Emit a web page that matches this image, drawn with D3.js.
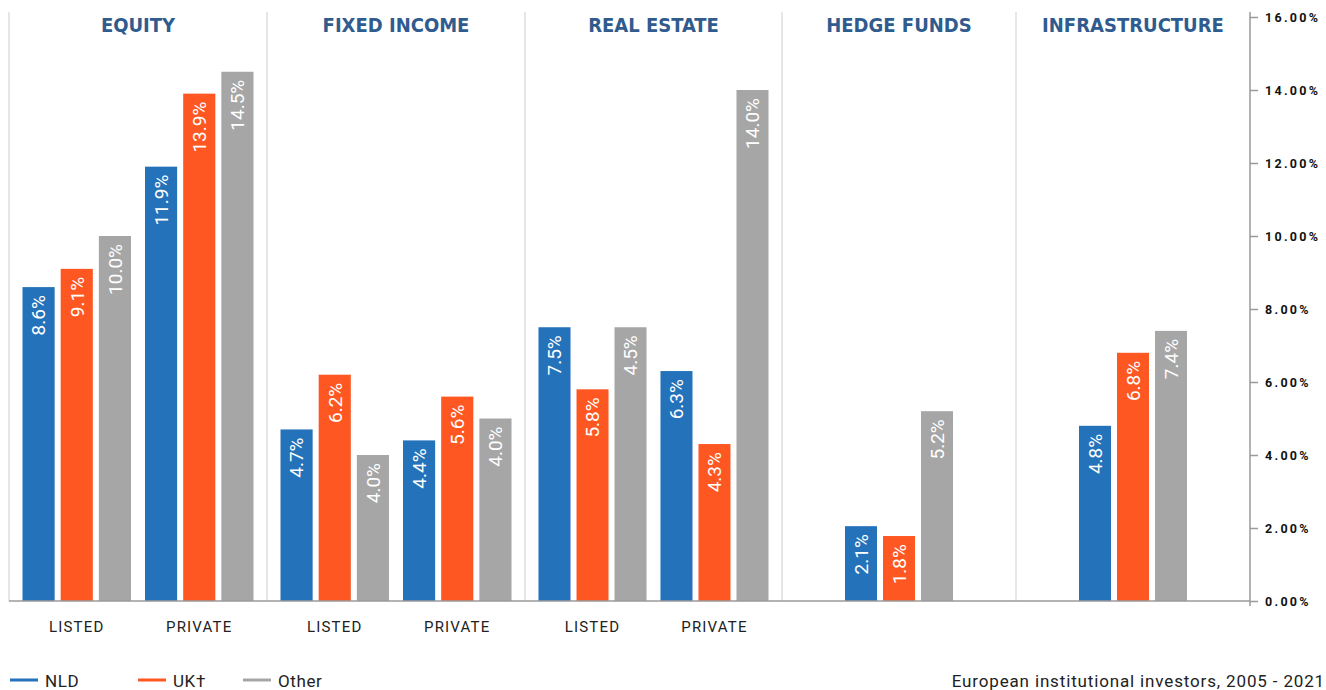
<!DOCTYPE html>
<html>
<head>
<meta charset="utf-8">
<script src="https://cdn.jsdelivr.net/npm/d3@7"></script>
<style>
  body { margin: 0; background: #fff; }
  svg { display: block; }
</style>
</head>
<body>
<div id="chart"></div>
<script>
// Données
const assetClasses = ["EQUITY", "FIXED INCOME", "REAL ESTATE", "HEDGE FUNDS", "INFRASTRUCTURE"];
const subGroups = [["LISTED", "PRIVATE"], ["LISTED", "PRIVATE"], ["LISTED", "PRIVATE"], [""], [""]];
const series = ["NLD", "UK†", "Other"];
const colors = ["#2472ba", "#ff5722", "#a6a6a6"];

// bar heights (percent) per asset class, per sub group, per series
const barValues = [
  [[8.6, 9.1, 10.0], [11.9, 13.9, 14.5]],
  [[4.7, 6.2, 4.0], [4.4, 5.6, 5.0]],
  [[7.5, 5.8, 7.5], [6.3, 4.3, 14.0]],
  [[2.05, 1.78, 5.2]],
  [[4.8, 6.8, 7.4]]
];
// labels as printed on the bars
const barLabels = [
  [["8.6%", "9.1%", "10.0%"], ["11.9%", "13.9%", "14.5%"]],
  [["4.7%", "6.2%", "4.0%"], ["4.4%", "5.6%", "4.0%"]],
  [["7.5%", "5.8%", "4.5%"], ["6.3%", "4.3%", "14.0%"]],
  [["2.1%", "1.8%", "5.2%"]],
  [["4.8%", "6.8%", "7.4%"]]
];
const yTicks = [0, 2, 4, 6, 8, 10, 12, 14, 16];
const footnote = "European institutional investors, 2005 - 2021";

// Mise en page
const width = 1326, height = 690;
const panelEdges = [9, 267, 525, 782, 1016, 1250];
const axisX = 1250;

const svg = d3.select("#chart").append("svg")
  .attr("width", width)
  .attr("height", height);

const y = d3.scaleLinear().domain([0, 16]).range([601, 17]);

// séparateurs
svg.append("g").selectAll("line")
  .data(panelEdges.slice(0, 5))
  .enter().append("line")
  .attr("x1", d => d).attr("x2", d => d)
  .attr("y1", 12).attr("y2", y(0))
  .attr("stroke", "#e6e6e6")
  .attr("stroke-width", 2);

// panneaux
const barScale = d3.scaleBand().domain(series).paddingInner(6 / 38);

assetClasses.forEach((name, i) => {
  const x0 = panelEdges[i], x1 = panelEdges[i + 1];
  const subs = subGroups[i];
  const pad = subs.length > 1 ? 13.5 : (x1 - x0 - 108) / 2;
  const groupScale = d3.scaleBand()
    .domain(subs)
    .range([x0 + pad, x1 - pad])
    .paddingInner(subs.length > 1 ? 14 / 122.5 : 0);
  barScale.range([0, groupScale.bandwidth()]);

  const g = svg.append("g");

  g.append("text")
    .attr("x", (x0 + x1) / 2)
    .attr("y", 32)
    .attr("text-anchor", "middle")
    .style("font-family", "'DejaVu Sans Condensed', 'Roboto Condensed', 'Liberation Sans Narrow', Roboto, sans-serif")
    .style("font-stretch", "condensed")
    .style("font-weight", "bold")
    .style("font-size", "20px")
    .style("fill", "#2f5b8f")
    .text(name);

  subs.forEach((sub, j) => {
    const gx = groupScale(sub);
    const data = series.map((s, k) => ({ s, k, v: barValues[i][j][k], label: barLabels[i][j][k] }));

    g.selectAll(".bar-" + j)
      .data(data)
      .enter().append("rect")
      .attr("x", d => gx + barScale(d.s))
      .attr("y", d => y(d.v))
      .attr("width", barScale.bandwidth())
      .attr("height", d => y(0) - y(d.v))
      .attr("fill", d => colors[d.k]);

    g.selectAll(".lbl-" + j)
      .data(data)
      .enter().append("text")
      .attr("transform", d => `translate(${gx + barScale(d.s) + barScale.bandwidth() / 2},${y(d.v) + 8}) rotate(-90)`)
      .attr("text-anchor", "end")
      .attr("dy", "0.36em")
      .style("font-family", "Roboto, sans-serif")
      .style("font-size", "19px")
      .style("fill", "#fff")
      .text(d => d.label);

    if (sub) {
      g.append("text")
        .attr("x", gx + groupScale.bandwidth() / 2)
        .attr("y", 632)
        .attr("text-anchor", "middle")
        .style("font-family", "Roboto, sans-serif")
        .style("font-size", "15px")
        .style("letter-spacing", "1.2px")
        .style("fill", "#222")
        .text(sub);
    }
  });
});

// ligne de base
svg.append("line")
  .attr("x1", panelEdges[0]).attr("x2", axisX)
  .attr("y1", y(0)).attr("y2", y(0))
  .attr("stroke", "#9a9a9a")
  .attr("stroke-width", 1.5);

// axe Y
svg.append("line")
  .attr("x1", axisX).attr("x2", axisX)
  .attr("y1", 12).attr("y2", 606)
  .attr("stroke", "#9a9a9a")
  .attr("stroke-width", 1.5);

const yAxis = svg.append("g")
  .attr("transform", `translate(${axisX},0)`)
  .call(d3.axisRight(y).tickValues(yTicks).tickSize(8).tickSizeOuter(0).tickPadding(7)
    .tickFormat(d => d.toFixed(2) + "%"));
yAxis.select(".domain").remove();
yAxis.selectAll(".tick line").attr("stroke", "#9a9a9a").attr("stroke-width", 1.5);
yAxis.selectAll(".tick text")
  .style("font-family", "Roboto, sans-serif")
  .style("font-weight", "bold")
  .style("font-size", "12.5px")
  .style("letter-spacing", "2.3px")
  .style("fill", "#111");

// légende
const legendX = [10, 138, 243];
const legend = svg.append("g").selectAll("g")
  .data(series)
  .enter().append("g")
  .attr("transform", (d, i) => `translate(${legendX[i]},680)`);

legend.append("line")
  .attr("x1", 0).attr("x2", 28)
  .attr("stroke", (d, i) => colors[i])
  .attr("stroke-width", 3);

legend.append("text")
  .attr("x", 35)
  .attr("y", 7)
  .style("font-family", "Roboto, sans-serif")
  .style("font-size", "17px")
  .style("letter-spacing", "0.6px")
  .style("fill", "#222")
  .text(d => d);

svg.append("text")
  .attr("x", 1325)
  .attr("y", 687)
  .attr("text-anchor", "end")
  .style("font-family", "Roboto, sans-serif")
  .style("font-size", "17px")
  .style("letter-spacing", "0.85px")
  .style("fill", "#222")
  .text(footnote);
</script>
</body>
</html>
